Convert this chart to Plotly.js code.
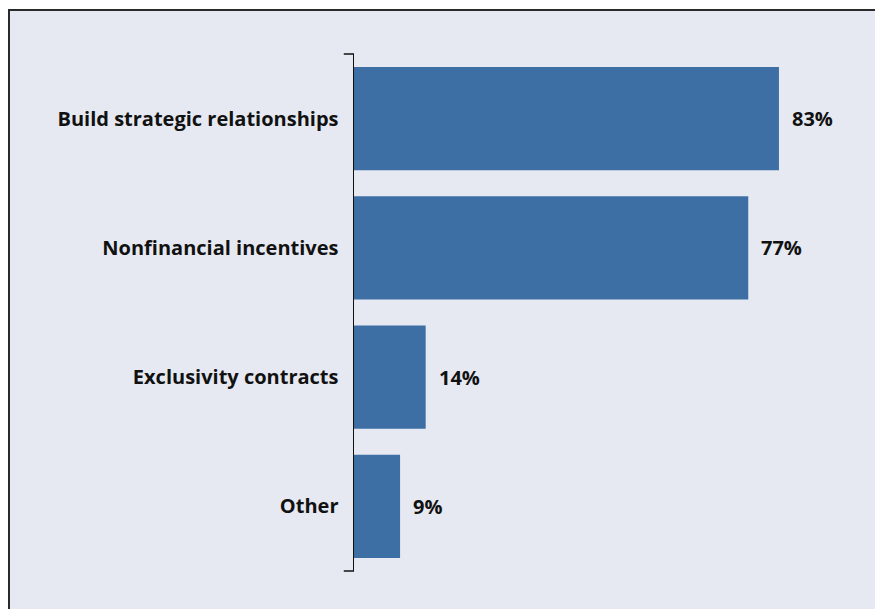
<!DOCTYPE html>
<html>
<head>
<meta charset="utf-8">
<script src="https://cdn.plot.ly/plotly-3.0.1.min.js"></script>
<style>
  html, body { margin: 0; padding: 0; background: #ffffff; }
  #frame { position: absolute; left: 8px; top: 9px; width: 867px; height: 600px;
           border-left: 2px solid #2a2a2a; border-top: 2px solid #2a2a2a; background: #e6e9f2; }
  #chart { width: 865px; height: 598px; }
</style>
</head>
<body>
<div id="frame"><div id="chart"></div></div>
<script>
const categories = ["Build strategic relationships", "Nonfinancial incentives", "Exclusivity contracts", "Other"];
const values = [83, 77, 14, 9];
const valueLabels = ["83%", "77%", "14%", "9%"];

const fontFamily = "'Open Sans', Lato, sans-serif";
const barColor = "#3d6fa5";

const trace = {
  type: "bar",
  orientation: "h",
  x: values,
  y: categories,
  marker: { color: barColor, line: { width: 0 } },
  width: 0.8,
  hoverinfo: "skip"
};

const annotations = values.map((v, i) => ({
  x: v, y: categories[i], xref: "x", yref: "y",
  text: "<b>" + valueLabels[i] + "</b>",
  showarrow: false, xanchor: "left", yanchor: "middle", xshift: 11,
  font: { family: fontFamily, size: 20, color: "#111111" }
}));

const layout = {
  width: 865, height: 598,
  margin: { l: 344, r: 9, t: 43, b: 38 },
  paper_bgcolor: "#e6e9f2",
  plot_bgcolor: "#e6e9f2",
  showlegend: false,
  xaxis: { range: [0, 100], visible: false, fixedrange: true },
  yaxis: {
    type: "category",
    autorange: false,
    range: [3.5, -0.5],
    showline: true, linecolor: "#111111", linewidth: 1.5,
    ticks: "", showgrid: false, zeroline: false,
    ticklabelstandoff: 10,
    tickfont: { family: fontFamily, size: 20, color: "#111111", weight: "bold" }
  },
  annotations: annotations,
  shapes: [
    { type: "line", xref: "paper", yref: "paper", x0: -0.02, x1: 0, y0: 1, y1: 1, line: { color: "#111111", width: 1.5 } },
    { type: "line", xref: "paper", yref: "paper", x0: -0.02, x1: 0, y0: 0, y1: 0, line: { color: "#111111", width: 1.5 } }
  ]
};

Plotly.newPlot("chart", [trace], layout, { displayModeBar: false, staticPlot: true });
</script>
</body>
</html>
